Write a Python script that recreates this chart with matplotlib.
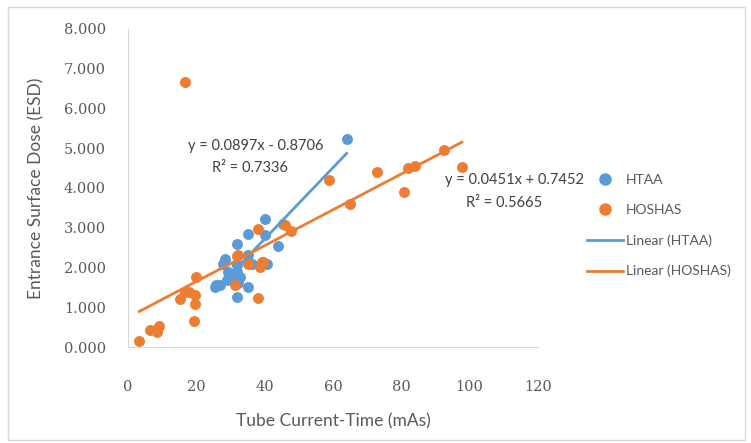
import numpy as np
import matplotlib.pyplot as plt
from matplotlib.patches import Rectangle
from matplotlib.lines import Line2D

# HTAA data (mAs, ESD)
htaa_x = [64.0, 40.1, 35.2, 32.0, 40.1, 44.0, 28.4, 27.9, 31.8, 35.2, 36.2, 40.6,
          29.3, 31.8, 28.9, 30.8, 25.9, 26.9, 32.3, 35.2, 32.0, 32.7, 25.4, 45.5]
htaa_y = [5.24, 3.22, 2.85, 2.60, 2.81, 2.53, 2.22, 2.09, 2.05, 2.31, 2.09, 2.09,
          1.89, 1.89, 1.68, 1.68, 1.55, 1.55, 1.60, 1.52, 1.25, 1.76, 1.50, 3.10]

# HOSHAS data (mAs, ESD)
hoshas_x = [3.3, 6.4, 7.9, 9.1, 8.4, 15.2, 16.7, 17.9, 19.8, 19.6, 19.6, 19.3,
            38.1, 31.3, 32.0, 35.2, 38.6, 39.6, 38.1, 45.9, 47.6, 32.3, 39.1,
            58.8, 73.0, 64.9, 80.8, 82.0, 83.9, 92.5, 97.7, 16.7]
hoshas_y = [0.15, 0.43, 0.43, 0.52, 0.38, 1.20, 1.39, 1.39, 1.76, 1.30, 1.09, 0.65,
            1.22, 1.57, 2.30, 2.10, 2.01, 2.14, 2.96, 3.08, 2.93, 2.31, 2.14,
            4.19, 4.39, 3.60, 3.89, 4.49, 4.54, 4.96, 4.52, 6.67]

# trendline coefficients as printed on the chart
htaa_fit = (0.0897, -0.8706)
hoshas_fit = (0.0451, 0.7452)

blue = "#5B9BD5"
orange = "#ED7D31"
grey_txt = "#595959"

fig = plt.figure(figsize=(7.51, 4.43), dpi=100)
fig.patches.append(Rectangle((0.011, 0.007), 0.981, 0.978, transform=fig.transFigure,
                             fill=False, edgecolor="#D9D9D9", linewidth=1))
ax = fig.add_axes([0.1704, 0.2167, 0.546, 0.718])

ax.scatter(htaa_x, htaa_y, s=62, color=blue, zorder=3, linewidths=0)
ax.scatter(hoshas_x, hoshas_y, s=62, color=orange, zorder=3, linewidths=0)

xs = np.array([min(htaa_x), max(htaa_x)])
ax.plot(xs, htaa_fit[0] * xs + htaa_fit[1], color=blue, lw=2, zorder=4)
xs = np.array([min(hoshas_x), max(hoshas_x)])
ax.plot(xs, hoshas_fit[0] * xs + hoshas_fit[1], color=orange, lw=2, zorder=4)

ax.set_xlim(0, 120)
ax.set_ylim(0, 8)
ax.set_xticks(np.arange(0, 121, 20))
ax.set_yticks(np.arange(0, 8.1, 1))
ax.set_yticklabels([f"{v:.3f}" for v in np.arange(0, 8.1, 1)])
for s in ["top", "right"]:
    ax.spines[s].set_visible(False)
for s in ["left", "bottom"]:
    ax.spines[s].set_color("#D9D9D9")
ax.tick_params(length=0, labelsize=10.5, colors=grey_txt)
ax.tick_params(axis="y", pad=16)
ax.tick_params(axis="x", pad=24)
for lab in ax.get_xticklabels() + ax.get_yticklabels():
    lab.set_family("DejaVu Serif")

ax.set_xlabel("Tube Current-Time (mAs)", fontsize=12.5, color=grey_txt,
              family="Lato", labelpad=14)
ax.set_ylabel("Entrance Surface Dose (ESD)", fontsize=12.5, color=grey_txt,
              family="Lato", labelpad=14)

eq_kw = dict(fontsize=10.5, color="#404040", family="Lato", ha="center",
             va="center", clip_on=False)
ax.text(37.4, 5.06, "y = 0.0897x - 0.8706", **eq_kw)
ax.text(35.7, 4.51, "R² = 0.7336", **eq_kw)
ax.text(113, 4.19, "y = 0.0451x + 0.7452", **eq_kw)
ax.text(110, 3.63, "R² = 0.5665", **eq_kw)

handles = [
    Line2D([], [], marker="o", ls="none", color=blue, markersize=8),
    Line2D([], [], marker="o", ls="none", color=orange, markersize=8),
    Line2D([], [], color=blue, lw=2),
    Line2D([], [], color=orange, lw=2),
]
labels = ["HTAA", "HOSHAS", "Linear (HTAA)", "Linear (HOSHAS)"]
leg = fig.legend(handles, labels, loc="upper left", bbox_to_anchor=(0.765, 0.635),
                 frameon=False, labelspacing=1.3, handlelength=2.6,
                 handletextpad=0.2, prop={"family": "Lato", "size": 10})
for t in leg.get_texts():
    t.set_color(grey_txt)

fig.savefig("out.png", dpi=100)
